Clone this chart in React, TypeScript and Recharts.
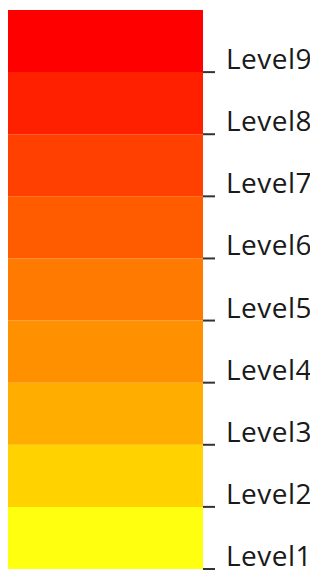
import React from 'react';
import { BarChart, Bar, XAxis, YAxis } from 'recharts';

// colour scale, bottom (Level1) to top (Level9)
const levels = ['Level1', 'Level2', 'Level3', 'Level4', 'Level5', 'Level6', 'Level7', 'Level8', 'Level9'];
const colors = ['#FFFF10', '#FFD200', '#FFAE00', '#FF9000', '#FF7A00', '#FF5C00', '#FF4000', '#FF2000', '#FF0000'];
const segmentSizes = [1, 1, 1, 1, 1, 1, 1, 1, 1];
const tickValues = [0, 1, 2, 3, 4, 5, 6, 7, 8];

const row: Record<string, string | number> = { name: 'scale' };
levels.forEach((lvl, i) => {
  row[lvl] = segmentSizes[i];
});
const data = [row];

function LevelTick(props: any) {
  const { x, y, payload } = props;
  return (
    <text
      x={x}
      y={y - 3}
      textAnchor="start"
      fill="#1a1a1a"
      fontSize={28}
      letterSpacing={0.5}
      fontFamily="'Open Sans', sans-serif"
    >
      {levels[payload.value]}
    </text>
  );
}

export default function App() {
  return (
    <BarChart
      width={310}
      height={565}
      data={data}
      margin={{ top: 2, right: 0, left: 0, bottom: 4 }}
      barCategoryGap={0}
    >
      <XAxis dataKey="name" type="category" hide />
      <YAxis
        orientation="right"
        type="number"
        domain={[0, 9]}
        ticks={tickValues}
        width={115}
        axisLine={false}
        tickLine={{ stroke: '#333', strokeWidth: 2 }}
        tickSize={12}
        tickMargin={11}
        tick={<LevelTick />}
        interval={0}
      />
      {levels.map((lvl, i) => (
        <Bar key={lvl} dataKey={lvl} stackId="a" fill={colors[i]} isAnimationActive={false} />
      ))}
    </BarChart>
  );
}
